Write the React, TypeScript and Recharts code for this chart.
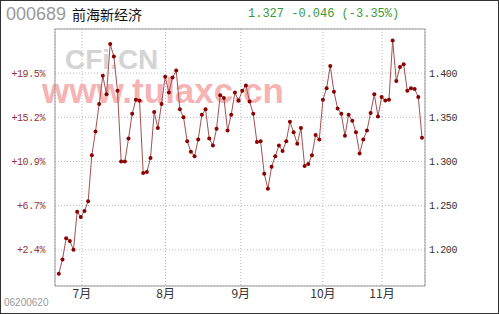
import React from "react";
import { LineChart, Line, XAxis, YAxis, CartesianGrid, ReferenceLine } from "recharts";

// daily closing prices, 06-20 to late Nov
const prices = [
  1.173, 1.189, 1.213, 1.210, 1.200, 1.243, 1.237, 1.244, 1.255, 1.307,
  1.334, 1.365, 1.397, 1.376, 1.433, 1.419, 1.380, 1.300, 1.300, 1.326,
  1.354, 1.370, 1.369, 1.287, 1.288, 1.304, 1.356, 1.338, 1.365, 1.396,
  1.378, 1.395, 1.403, 1.359, 1.350, 1.323, 1.311, 1.306, 1.325, 1.353,
  1.359, 1.326, 1.318, 1.337, 1.375, 1.372, 1.335, 1.353, 1.378, 1.369,
  1.380, 1.386, 1.368, 1.354, 1.322, 1.323, 1.286, 1.269, 1.294, 1.306,
  1.318, 1.312, 1.323, 1.345, 1.333, 1.320, 1.338, 1.295, 1.297, 1.307,
  1.330, 1.325, 1.370, 1.383, 1.408, 1.379, 1.360, 1.354, 1.329, 1.353,
  1.346, 1.333, 1.309, 1.325, 1.335, 1.355, 1.376, 1.351, 1.373, 1.369,
  1.370, 1.437, 1.391, 1.407, 1.410, 1.380, 1.383, 1.382, 1.373, 1.327,
];

const monthTicks = [6.3, 29.1, 49.6, 72.0, 88.1];
const monthLabels = ["7月", "8月", "9月", "10月", "11月"];

const priceTicks = [1.2, 1.25, 1.3, 1.35, 1.4];
const priceLabels = ["1.200", "1.250", "1.300", "1.350", "1.400"];
const pctLabels = ["+2.4%", "+6.7%", "+10.9%", "+15.2%", "+19.5%"];

const data = prices.map((p, i) => ({ i, p }));

const yDomain: [number, number] = [1.159, 1.45];
const mono = "'Liberation Mono', 'DejaVu Sans Mono', monospace";

export default function App() {
  return (
    <div style={{ position: "absolute", left: 0, top: 0, width: 499, height: 314, background: "#fff", overflow: "hidden" }}>
      {/* watermarks */}
      <div style={{ position: "absolute", left: 65, top: 49, fontFamily: "'Liberation Sans', Arial, sans-serif", fontWeight: "bold", fontSize: 28, lineHeight: "22px", color: "#d4d4d4", whiteSpace: "nowrap" }}>
        CFi.CN
      </div>
      <div style={{ position: "absolute", left: 42, top: 77, fontFamily: "'Liberation Sans', Arial, sans-serif", fontWeight: "bold", fontSize: 35, lineHeight: "28px", color: "#f6b3b3", whiteSpace: "nowrap" }}>
        www.tulaxc.cn
      </div>

      <div style={{ position: "absolute", left: 0, top: 0 }}>
        <LineChart width={499} height={314} data={data} margin={{ top: 29, right: 0, bottom: 0, left: 0 }}>
          <CartesianGrid yAxisId="price" stroke="#bbb" strokeDasharray="1 2" />
          <XAxis
            dataKey="i"
            type="number"
            domain={[-1.04, 99.82]}
            allowDataOverflow
            ticks={monthTicks}
            interval={0}
            tickFormatter={(v: number) => monthLabels[monthTicks.indexOf(v)]}
            height={28}
            tickSize={0}
            tickMargin={3}
            axisLine={{ stroke: "#999" }}
            tick={{ fontSize: 12, fill: "#333", fontFamily: "'Noto Sans CJK SC', sans-serif" }}
          />
          <YAxis
            yAxisId="pct"
            orientation="left"
            width={55}
            domain={yDomain}
            allowDataOverflow
            ticks={priceTicks}
            interval={0}
            tickFormatter={(v: number) => pctLabels[priceTicks.indexOf(v)]}
            tickSize={0}
            tickMargin={10}
            axisLine={{ stroke: "#999" }}
            tick={{ fontSize: 10, fill: "#993333", fontFamily: mono, letterSpacing: -0.4 }}
          />
          <YAxis
            yAxisId="price"
            orientation="right"
            width={74}
            domain={yDomain}
            allowDataOverflow
            ticks={priceTicks}
            interval={0}
            tickFormatter={(v: number) => priceLabels[priceTicks.indexOf(v)]}
            tickSize={0}
            tickMargin={4}
            axisLine={{ stroke: "#999" }}
            tick={{ fontSize: 10, fill: "#333", fontFamily: mono, letterSpacing: -0.4 }}
          />
          <ReferenceLine yAxisId="price" y={1.45} stroke="#999" ifOverflow="extendDomain" />
          <Line
            yAxisId="price"
            type="linear"
            dataKey="p"
            stroke="#a35050"
            strokeWidth={1}
            dot={{ r: 2, fill: "#8b0000", stroke: "#8b0000", strokeWidth: 0 }}
            isAnimationActive={false}
          />
        </LineChart>
      </div>

      {/* header */}
      <div style={{ position: "absolute", left: 6, top: 5, fontFamily: "'Liberation Sans', Arial, sans-serif", fontSize: 18, lineHeight: "18px", color: "#999", whiteSpace: "nowrap" }}>
        000689
      </div>
      <div style={{ position: "absolute", left: 72, top: 6, fontFamily: "'Noto Sans CJK SC', sans-serif", fontSize: 14, lineHeight: "16px", color: "#111", whiteSpace: "nowrap" }}>
        前海新经济
      </div>
      <div style={{ position: "absolute", left: 248, top: 7, fontFamily: mono, fontSize: 12, lineHeight: "14px", color: "#3a9a3a", whiteSpace: "nowrap" }}>
        1.327 -0.046 (-3.35%)
      </div>
      <div style={{ position: "absolute", left: 4, top: 297, fontFamily: "'Liberation Sans', Arial, sans-serif", fontSize: 10, lineHeight: "12px", color: "#999", whiteSpace: "nowrap" }}>
        06200620
      </div>

      <div style={{ position: "absolute", left: 0, top: 0, width: 499, height: 314, boxSizing: "border-box", border: "1px solid #333", pointerEvents: "none" }} />
    </div>
  );
}
